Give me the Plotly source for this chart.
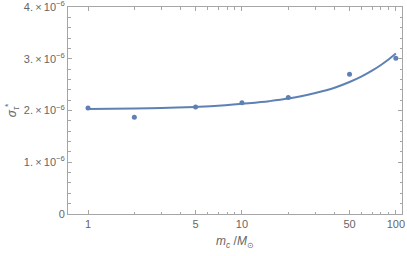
import plotly.graph_objects as go

# data points
mass = [1, 2, 5, 10, 20, 50, 100]
sigma = [2.05e-6, 1.87e-6, 2.07e-6, 2.15e-6, 2.25e-6, 2.70e-6, 3.01e-6]

# fitted curve, values
fit_mass = [1, 2, 3, 5, 7, 10, 15, 20, 30, 40, 50, 60, 70, 80, 90, 100]
fit_sigma = [2.03e-6, 2.04e-6, 2.05e-6, 2.07e-6, 2.09e-6, 2.13e-6, 2.18e-6, 2.23e-6,
             2.34e-6, 2.44e-6, 2.55e-6, 2.66e-6, 2.77e-6, 2.88e-6, 2.99e-6, 3.10e-6]

x_tickvals = [1, 5, 10, 50, 100]
x_ticktext = ["1", "5", "10", "50", "100"]
x_minor = [2, 3, 4, 6, 7, 8, 9, 20, 30, 40, 60, 70, 80, 90]
y_tickvals = [0, 1e-6, 2e-6, 3e-6, 4e-6]
y_ticktext = ["0"] + [f"{k}.\u2009×\u200910<sup>−6</sup>" for k in (1, 2, 3, 4)]

blue = "#5E81B5"
gray = "#A6A6A6"
tc = "#666666"

fig = go.Figure()
fig.add_trace(go.Scatter(x=fit_mass, y=fit_sigma, mode="lines", line=dict(color=blue, width=2, shape="spline"),
                         showlegend=False, hoverinfo="skip"))
fig.add_trace(go.Scatter(x=mass, y=sigma, mode="markers", marker=dict(color=blue, size=5),
                         showlegend=False))

fig.update_layout(
    width=407, height=256,
    margin=dict(l=68, r=5, t=7, b=42, autoexpand=False),
    plot_bgcolor="white", paper_bgcolor="white",
    hovermode=False,
    font=dict(family="Liberation Sans, Arial, sans-serif", size=11, color=tc),
    xaxis=dict(type="log", range=[-0.13, 2.04], tickvals=x_tickvals, ticktext=x_ticktext,
               showgrid=False, zeroline=False, showline=True, linecolor=gray, linewidth=1,
               mirror="allticks", ticks="inside", ticklen=4, tickcolor=gray, automargin=False,
               ticklabeloverflow="allow",
               minor=dict(tickvals=x_minor, ticks="inside", ticklen=2.5, tickcolor=gray, showgrid=False),
               title=dict(text="<i>m</i><sub><i>c</i></sub> /<i>M</i><sub>⊙</sub>", font=dict(size=12, color=tc), standoff=7),
               tickfont=dict(size=11, color=tc)),
    yaxis=dict(range=[0, 4e-6], tickvals=y_tickvals, ticktext=y_ticktext,
               showgrid=False, zeroline=False, showline=True, linecolor=gray, linewidth=1,
               mirror="allticks", ticks="inside", ticklen=4, tickcolor=gray, automargin=False,
               ticklabeloverflow="allow",
               minor=dict(dtick=2e-7, ticks="inside", ticklen=2.5, tickcolor=gray, showgrid=False),
               title=dict(text="<i>σ</i><sub><i>τ</i></sub><sup>*</sup>", font=dict(size=12, color=tc), standoff=4),
               tickfont=dict(size=11, color=tc)),
)

fig.write_html("out.html", config={"displayModeBar": False},
               post_script="document.body.style.margin='0';")
